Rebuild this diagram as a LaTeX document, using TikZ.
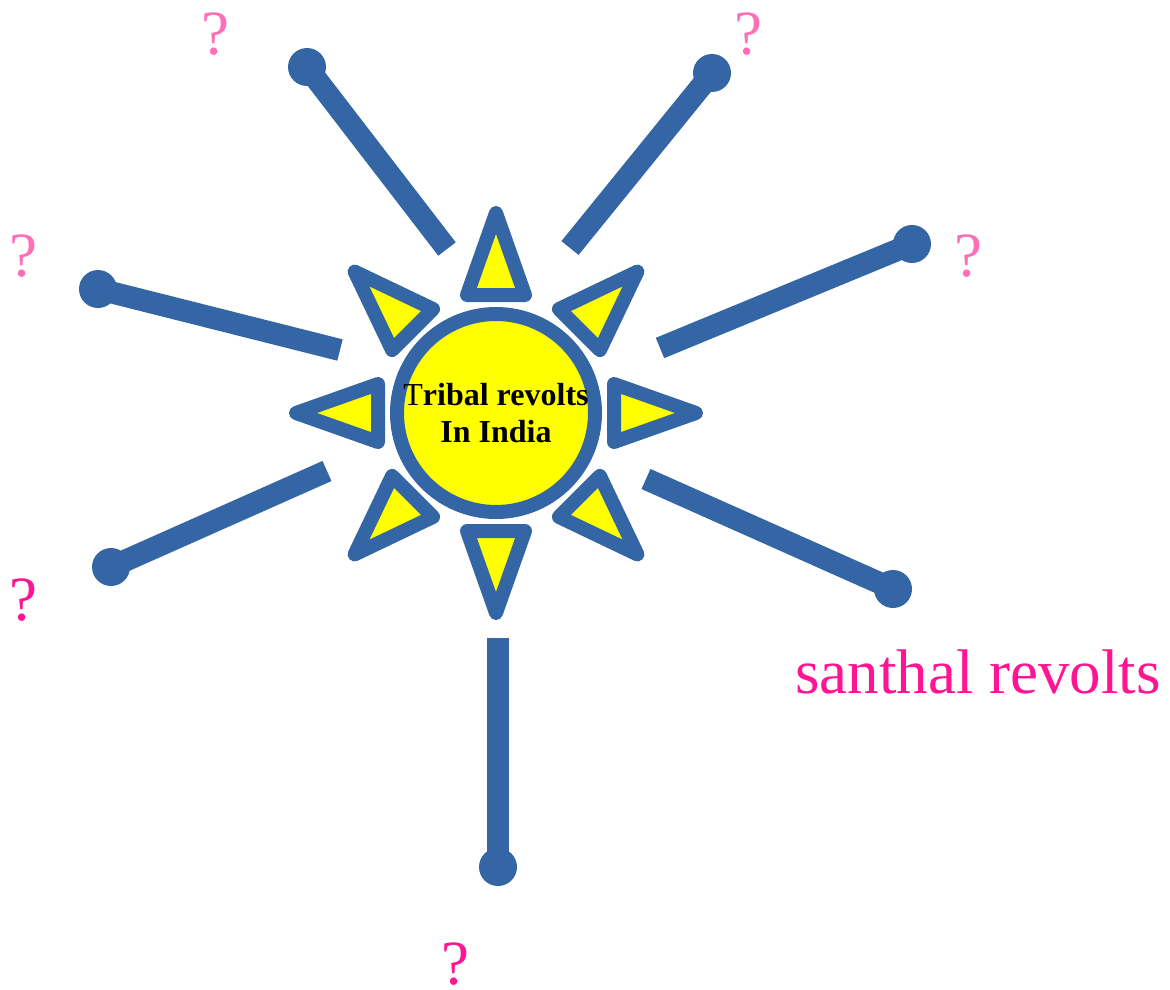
\documentclass[tikz,border=0pt]{standalone}
\usepackage{fontspec}
\setmainfont{Liberation Serif}
\usetikzlibrary{calc}
\definecolor{sunblue}{HTML}{3465A4}
\definecolor{sunyellow}{HTML}{FFFF00}
\definecolor{asklight}{HTML}{FF6FB7}
\definecolor{askdeep}{HTML}{FF1493}

\begin{document}
\begin{tikzpicture}[x=1pt,y=-1pt,
  sunbody/.style={circle,draw=sunblue,fill=sunyellow,line width=14pt,minimum size=198pt,inner sep=0pt,align=center,font=\fontsize{32}{37}\selectfont\bfseries},
  ray/.style={draw=sunblue,fill=sunyellow,line width=14pt,line join=round},
  spoke/.style={draw=sunblue,line width=22pt},
  knob/.style={circle,fill=sunblue,minimum size=38pt,inner sep=0pt},
  ask/.style={anchor=base,inner sep=0pt,font=\fontsize{63}{63}\selectfont}]
  \useasboundingbox (0,0) rectangle (1170,990);
  % spokes with end knobs
  \foreach \n/\ex/\ey/\kx/\ky in {1/447/249/307/67,2/570/248/712/73,3/340/350/98/289,4/660/348/912/244,5/327/471/111/567,6/646/479/893/589,7/498/638/498/867}{
    \coordinate (e\n) at (\ex,\ey);
    \node[knob] (k\n) at (\kx,\ky) {};
    \draw[spoke] (e\n) -- (k\n.center);
  }
  % sun and rays
  \node[sunbody] (sun) at (496,413) {{\mdseries T}ribal revolts\\In India};
  \foreach \ang in {0,45,...,315}{
    \draw[ray] ($(sun.center)+(\ang:118)+(\ang+90:29)$) -- ($(sun.center)+(\ang:200)$) -- ($(sun.center)+(\ang:118)+(\ang-90:29)$) -- cycle;
  }
  % labels
  \node[ask,asklight] (q1) at (215,55) {?};
  \node[ask,asklight] (q2) at (748,55) {?};
  \node[ask,asklight] (q3) at (23,276) {?};
  \node[ask,asklight] (q4) at (968,276) {?};
  \node[ask,askdeep] (q5) at (23,620) {?};
  \node[ask,askdeep] (q6) at (455,984) {?};
  \node[ask,askdeep,anchor=base west] (santhal) at (795,693) {santhal revolts};
\end{tikzpicture}
\end{document}
